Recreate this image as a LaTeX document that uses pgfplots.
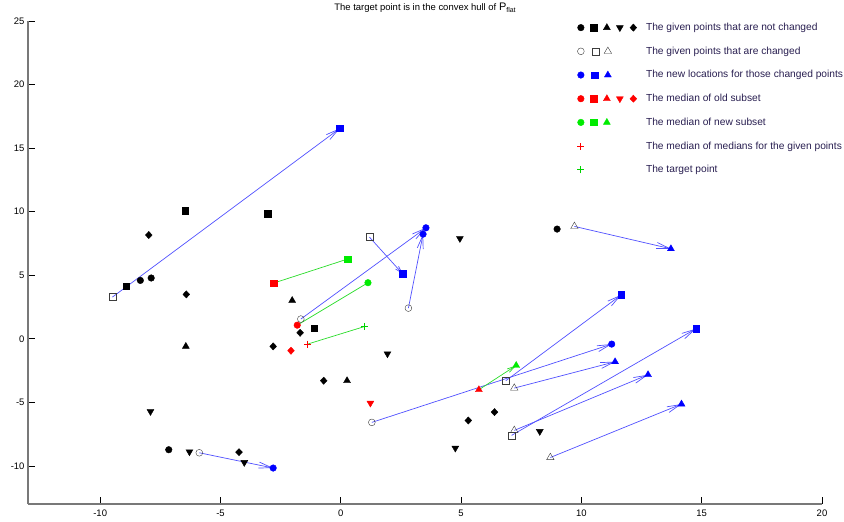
\documentclass[border=0pt]{standalone}
\usepackage{fontspec}
\setmainfont{Liberation Sans}
\usepackage{pgfplots}
\pgfplotsset{compat=1.18}
\usetikzlibrary{arrows.meta}

\definecolor{arrblue}{RGB}{80,80,255}
\definecolor{arrgreen}{RGB}{40,220,40}
\definecolor{opengray}{RGB}{60,60,60}
\definecolor{axgray}{RGB}{120,120,120}
\definecolor{legtext}{RGB}{40,30,80}
\definecolor{pblue}{RGB}{0,0,255}
\definecolor{pred}{RGB}{255,0,0}
\definecolor{pgreen}{RGB}{0,235,0}
\definecolor{plusgreen}{RGB}{0,210,0}

\tikzset{
  mcirc/.style={mark=*,mark size=3.3bp},
  msq/.style={mark=square*,mark size=3.2bp},
  mup/.style={mark=triangle*,mark size=4bp},
  mdown/.style={mark=triangle*,mark size=4bp,mark options={rotate=180}},
  mdia/.style={mark=diamond*,mark size=3.6bp,mark options={xscale=1.25}},
  ocirc/.style={mark=o,mark size=3.4bp},
  osq/.style={mark=square,mark size=3.4bp},
  otri/.style={mark=triangle,mark size=4.3bp},
  mplus/.style={mark=+,mark size=3.5bp,mark options={line width=1bp}},
  arrL/.style={arrblue,line width=0.7bp,-{Straight Barb[length=13bp,width=6bp]}},
  arrS/.style={arrblue,line width=0.7bp,-{Straight Barb[length=7bp,width=4bp]}},
}
% one legend glyph: colour, x offset, mark style
\newcommand{\lm}[3]{\draw[#1,shift={(#2,0)}] plot[only marks,#3,every mark/.append style={draw=#1,fill=#1}] coordinates {(0,0)};}
% a plus glyph drawn as two strokes
\newcommand{\lplus}[1]{\draw[draw=#1,line width=1bp] (-3.5bp,0) -- (3.5bp,0) (0,-3.5bp) -- (0,3.5bp);}
\newcommand{\lpad}{\path (-4bp,0) (57bp,0);}

\begin{document}
\begin{tikzpicture}
\begin{axis}[
  name=ax,
  width=794bp, height=483bp, scale only axis,
  xmin=-13, xmax=20, ymin=-13, ymax=25,
  axis x line=bottom, axis y line=left,
  axis line style={-, draw=axgray, line width=1.2bp},
  xtick={-10,-5,0,5,10,15,20},
  xticklabels={-10,-5,0,5,10,15,20},
  ytick={-10,-5,0,5,10,15,20,25},
  yticklabels={-10,-5,0,5,10,15,20,25},
  tick align=inside,
  major tick length=7bp,
  tick style={black, line width=0.6bp},
  ticklabel style={font=\fontsize{9.5}{10}\selectfont},
  xticklabel style={yshift=-2bp},
  title={The target point is in the convex hull of {\fontsize{11}{11}\selectfont P}\raisebox{-2.5bp}{\fontsize{7}{7}\selectfont flat}},
  title style={at={(0.5,1)}, anchor=base, yshift=5bp, inner sep=0pt, font=\fontsize{9.5}{10}\selectfont},
  clip=false,
  legend style={draw=none, fill=none, at={(0.687,1.0)}, anchor=north west,
    font=\fontsize{10.25}{12}\selectfont, text=legtext,
    row sep=14.8bp, column sep=8bp,
    nodes={inner sep=0pt}},
  legend cell align=left,
]
% ---- legend glyphs ----
\addlegendimage{legend image code/.code={\lpad
  \lm{black}{0bp}{mcirc}\lm{black}{13bp}{msq}\lm{black}{26bp}{mup}\lm{black}{39bp}{mdown}\lm{black}{52.5bp}{mdia}}}
\addlegendentry{The given points that are not changed}
\addlegendimage{legend image code/.code={\lpad
  \lm{opengray}{0bp}{ocirc}\lm{opengray}{14.5bp}{osq}\lm{opengray}{27bp}{otri}}}
\addlegendentry{The given points that are changed}
\addlegendimage{legend image code/.code={\lpad
  \lm{pblue}{0bp}{mcirc}\lm{pblue}{14bp}{msq}\lm{pblue}{27bp}{mup}}}
\addlegendentry{The new locations for those changed points}
\addlegendimage{legend image code/.code={\lpad
  \lm{pred}{0bp}{mcirc}\lm{pred}{13bp}{msq}\lm{pred}{26bp}{mup}\lm{pred}{39bp}{mdown}\lm{pred}{52.5bp}{mdia}}}
\addlegendentry{The median of old subset}
\addlegendimage{legend image code/.code={\lpad
  \lm{pgreen}{0bp}{mcirc}\lm{pgreen}{13bp}{msq}\lm{pgreen}{26bp}{mup}}}
\addlegendentry{The median of new subset}
\addlegendimage{legend image code/.code={\lpad\lplus{pred}}}
\addlegendentry{The median of medians for the given points}
\addlegendimage{legend image code/.code={\lpad\lplus{plusgreen}}}
\addlegendentry{The target point}

% ---- moves of the changed points (old -> new) ----
\addplot[arrL, forget plot] coordinates {(-5.88,-8.97) (-2.81,-10.17)};
\addplot[arrL, forget plot] coordinates {(-1.66,1.55) (3.54,8.73)};
\addplot[arrL, forget plot] coordinates {(2.81,2.41) (3.42,8.23)};
\addplot[arrL, forget plot] coordinates {(1.29,-6.58) (11.26,-0.42)};
\addplot[arrL, forget plot] coordinates {(-9.49,3.28) (-0.04,16.55)};
\addplot[arrS, forget plot] coordinates {(1.19,8.00) (2.57,5.11)};
\addplot[arrL, forget plot] coordinates {(6.86,-3.30) (11.66,3.46)};
\addplot[arrL, forget plot] coordinates {(7.10,-7.60) (14.76,0.79)};
\addplot[arrL, forget plot] coordinates {(9.71,8.84) (13.72,7.08)};
\addplot[arrL, forget plot] coordinates {(7.21,-3.88) (11.40,-1.81)};
\addplot[arrL, forget plot] coordinates {(7.21,-7.21) (12.77,-2.83)};
\addplot[arrL, forget plot] coordinates {(8.71,-9.34) (14.16,-5.14)};

% ---- old median -> new median ----
\addplot[arrgreen, line width=0.7bp, forget plot] coordinates {(-2.79,4.38) (0.28,6.27)};
\addplot[arrgreen, line width=0.7bp, forget plot] coordinates {(-1.81,1.07) (1.13,4.41)};
\addplot[arrgreen, line width=0.7bp, forget plot] coordinates {(-1.38,-0.42) (1.00,0.97)};
\addplot[arrgreen, line width=0.7bp, -{Straight Barb[length=8bp,width=4bp]}, forget plot] coordinates {(5.74,-4.01) (7.29,-2.10)};

% ---- given points, not changed ----
\addplot[only marks, black, mcirc, forget plot] coordinates {(-8.33,4.59) (-7.88,4.78) (8.99,8.63) (-7.15,-8.73)};
\addplot[only marks, black, msq, forget plot] coordinates {(-6.46,10.07) (-3.04,9.83) (-8.92,4.12) (-1.11,0.81)};
\addplot[only marks, black, mup, forget plot] coordinates {(-2.02,3.01) (-6.44,-0.60) (0.26,-3.30)};
\addplot[only marks, black, mdown, forget plot] coordinates {(-7.91,-5.72) (-6.29,-8.89) (-4.01,-9.73) (1.94,-1.18) (4.95,7.89) (4.76,-8.60) (8.27,-7.29)};
\addplot[only marks, black, mdia, forget plot] coordinates {(-7.98,8.16) (-6.42,3.49) (-1.69,0.47) (-2.81,-0.60) (-0.71,-3.30) (5.30,-6.43) (6.39,-5.77) (-4.23,-8.92)};

% ---- given points, changed ----
\addplot[only marks, opengray, ocirc, forget plot] coordinates {(-1.66,1.55) (2.81,2.41) (1.29,-6.58) (-5.88,-8.97)};
\addplot[only marks, opengray, osq, forget plot] coordinates {(-9.49,3.28) (1.19,8.00) (6.86,-3.30) (7.10,-7.60)};
\addplot[only marks, opengray, otri, forget plot] coordinates {(7.21,-3.88) (7.21,-7.21) (8.71,-9.34) (9.71,8.84)};

% ---- new locations ----
\addplot[only marks, pblue, mcirc, forget plot] coordinates {(-2.81,-10.17) (3.54,8.73) (3.42,8.23) (11.26,-0.42)};
\addplot[only marks, pblue, msq, forget plot] coordinates {(-0.04,16.55) (2.57,5.11) (11.66,3.46) (14.76,0.79)};
\addplot[only marks, pblue, mup, forget plot] coordinates {(13.72,7.08) (11.40,-1.81) (12.77,-2.83) (14.16,-5.14)};

% ---- medians of old subsets ----
\addplot[only marks, pred, mcirc, forget plot] coordinates {(-1.81,1.07)};
\addplot[only marks, pred, msq, forget plot] coordinates {(-2.79,4.38)};
\addplot[only marks, pred, mup, forget plot] coordinates {(5.74,-4.01)};
\addplot[only marks, pred, mdown, forget plot] coordinates {(1.23,-5.06)};
\addplot[only marks, pred, mdia, forget plot] coordinates {(-2.07,-0.94)};
\addplot[only marks, pred, mplus, forget plot] coordinates {(-1.38,-0.42)};

% ---- medians of new subsets ----
\addplot[only marks, pgreen, mcirc, forget plot] coordinates {(1.13,4.41)};
\addplot[only marks, pgreen, msq, forget plot] coordinates {(0.28,6.27)};
\addplot[only marks, pgreen, mup, forget plot] coordinates {(7.29,-2.10)};
\addplot[only marks, plusgreen, mplus, forget plot] coordinates {(1.00,0.97)};
\end{axis}
\pgfresetboundingbox
\path[use as bounding box] ([xshift=-28bp,yshift=-18bp]ax.south west) rectangle ([xshift=22bp,yshift=21bp]ax.north east);
\end{tikzpicture}
\end{document}
